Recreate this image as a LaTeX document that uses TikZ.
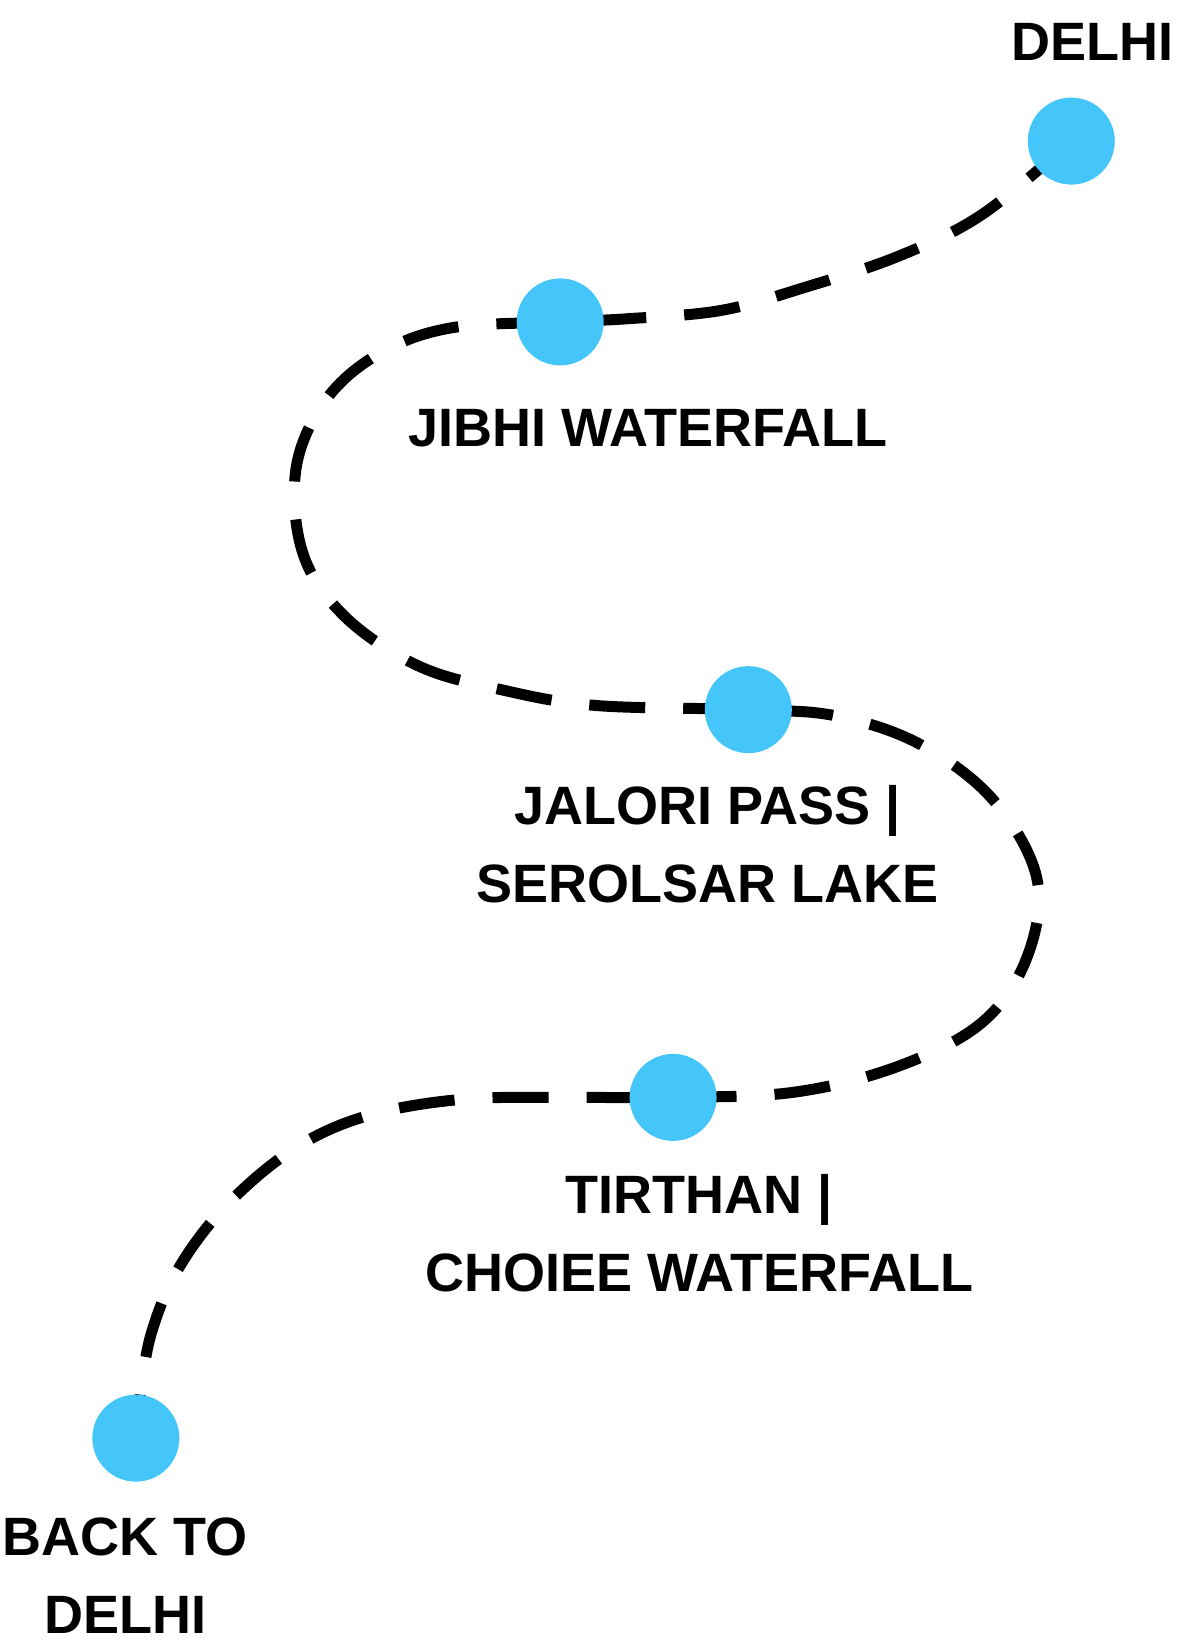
\documentclass[tikz,border=0pt]{standalone}
\usepackage{fontspec}
\setmainfont{Liberation Sans}
\usetikzlibrary{backgrounds}
\definecolor{dot}{RGB}{69,198,250}
\begin{document}
\begin{tikzpicture}[x=1.045pt,y=-1.045pt,
  stop/.style={circle,fill=dot,minimum size=87pt,inner sep=0pt},
  lbl/.style={font=\fontsize{54}{78}\selectfont\bfseries,align=center,text=black,inner sep=0pt},
  route/.style={line width=11pt,dash pattern=on 56pt off 38pt}]
\useasboundingbox (0,0) rectangle (1132,1573);
\node[stop] (delhi) at (1025,135) {};
\node[stop] (jibhi) at (536,308) {};
\node[stop] (jalori) at (716,679) {};
\node[stop] (tirthan) at (644,1050) {};
\node[stop] (back) at (130,1376) {};
\node[lbl] (tdelhi) at (1045,40) {DELHI};
\node[lbl] (tjibhi) at (620,410) {JIBHI WATERFALL};
\node[lbl] (tjalori) at (677,808) {JALORI PASS |\\SEROLSAR LAKE};
\node[lbl] (ttirthan) at (669,1180) {TIRTHAN |\\CHOIEE WATERFALL};
\node[lbl] (tback) at (120,1508) {BACK TO\\DELHI};
\begin{pgfonlayer}{background}
\draw[route] plot[smooth,tension=0.6] coordinates {(delhi.center) (940,205) (860,245) (770,275) (690,297) (600,305) (jibhi.center) (430,314) (360,340) (310,385) (283,450) (290,530) (330,590) (400,637) (480,660) (570,675) (jalori.center) (800,685) (880,712) (950,765) (992,840) (983,915) (940,978) (860,1020) (760,1045) (tirthan.center) (540,1050) (440,1052) (350,1068) (280,1100) (215,1155) (170,1215) (145,1275) (135,1330) (back.center)};
\end{pgfonlayer}
\end{tikzpicture}
\end{document}
